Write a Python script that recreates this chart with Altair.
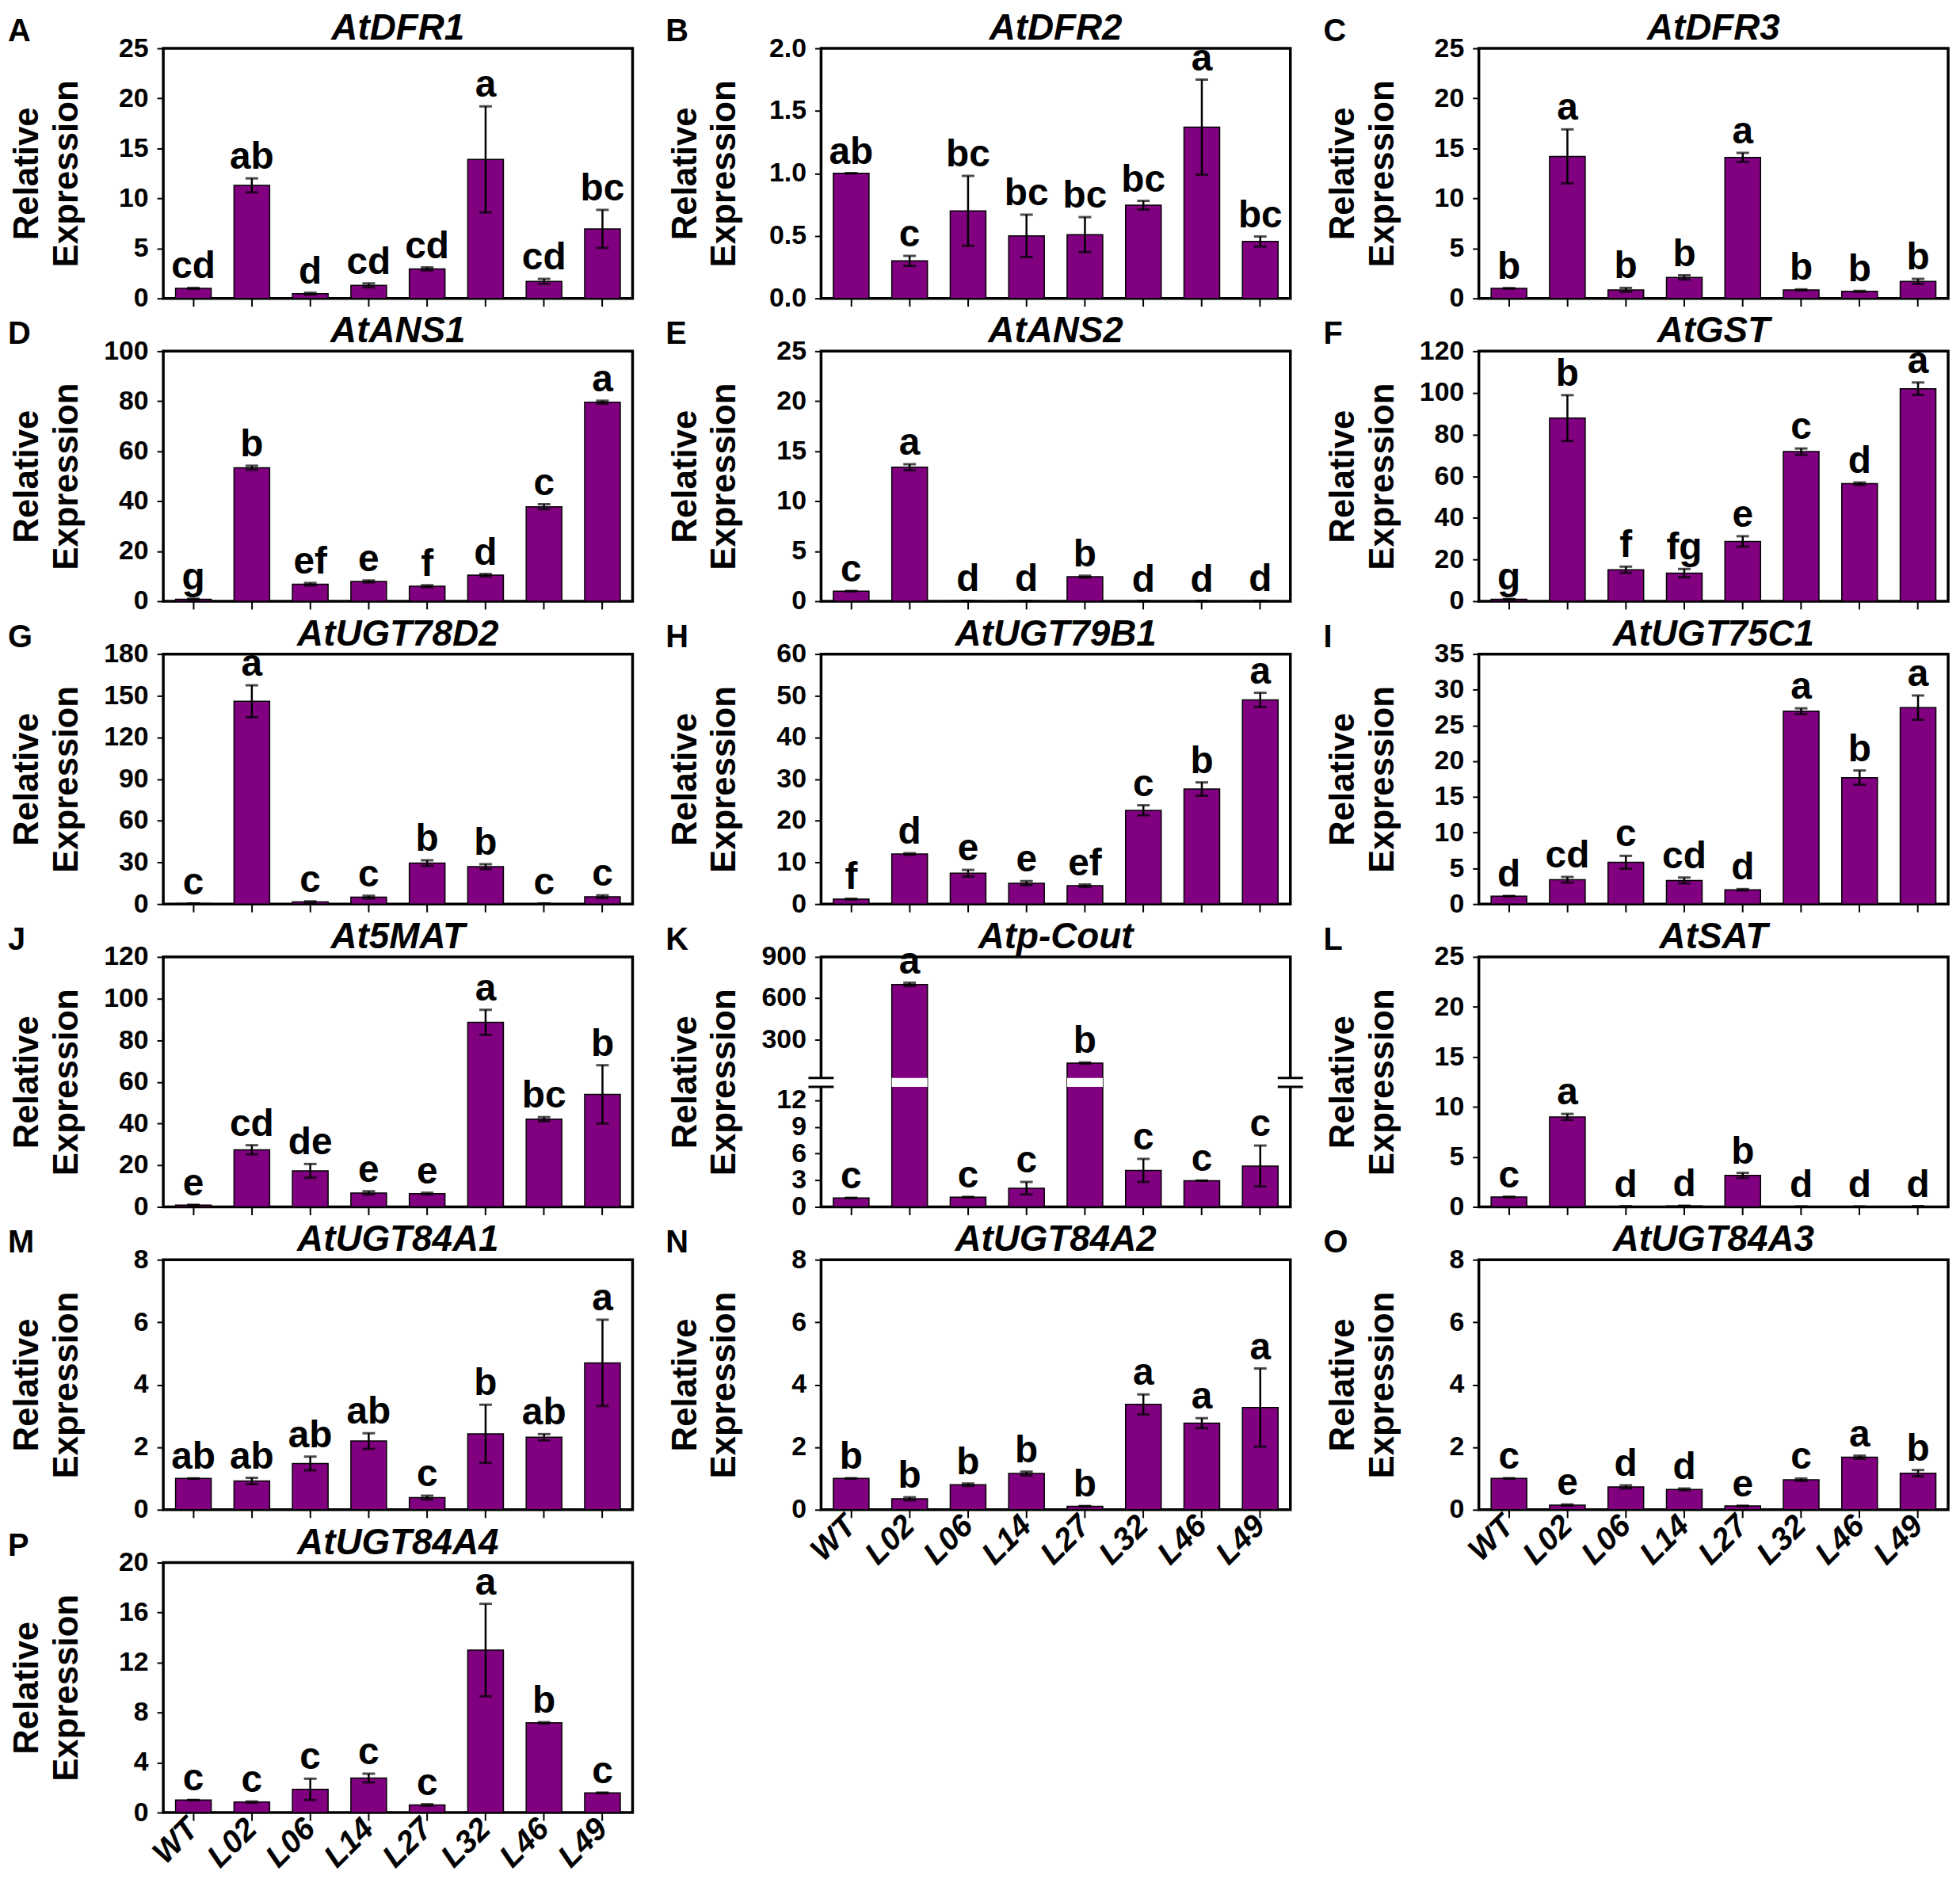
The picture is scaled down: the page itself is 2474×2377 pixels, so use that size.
import altair as alt
import pandas as pd

LINES = ["WT", "L02", "L06", "L14", "L27", "L32", "L46", "L49"]

DFR1_MEAN = [1.0, 11.3, 0.47, 1.3, 2.95, 13.9, 1.7, 6.95]
DFR1_ERR = [0.05, 0.7, 0.1, 0.2, 0.15, 5.3, 0.25, 1.9]
DFR1_SIG = ["cd", "ab", "d", "cd", "cd", "a", "cd", "bc"]

DFR2_MEAN = [1.0, 0.30, 0.70, 0.50, 0.51, 0.745, 1.37, 0.455]
DFR2_ERR = [0.0, 0.04, 0.28, 0.17, 0.14, 0.035, 0.38, 0.04]
DFR2_SIG = ["ab", "c", "bc", "bc", "bc", "bc", "a", "bc"]

DFR3_MEAN = [1.0, 14.2, 0.85, 2.1, 14.1, 0.85, 0.7, 1.7]
DFR3_ERR = [0.0, 2.7, 0.2, 0.2, 0.45, 0.05, 0.05, 0.25]
DFR3_SIG = ["b", "a", "b", "b", "a", "b", "b", "b"]

ANS1_MEAN = [0.8, 53.4, 6.8, 7.9, 6.0, 10.4, 37.8, 79.6]
ANS1_ERR = [0.2, 0.8, 0.5, 0.4, 0.4, 0.5, 1.0, 0.6]
ANS1_SIG = ["g", "b", "ef", "e", "f", "d", "c", "a"]

ANS2_MEAN = [1.0, 13.4, 0.03, 0.03, 2.45, 0.02, 0.02, 0.03]
ANS2_ERR = [0.0, 0.3, 0.01, 0.01, 0.1, 0.01, 0.01, 0.01]
ANS2_SIG = ["c", "a", "d", "d", "b", "d", "d", "d"]

GST_MEAN = [0.9, 87.9, 15.1, 13.5, 28.7, 71.8, 56.4, 102.0]
GST_ERR = [0.1, 11.0, 1.5, 2.0, 2.5, 1.5, 0.6, 3.0]
GST_SIG = ["g", "b", "f", "fg", "e", "c", "d", "a"]

U78D2_MEAN = [0.4, 146.0, 1.5, 5.0, 29.5, 26.9, 0.3, 5.3]
U78D2_ERR = [0.0, 11.5, 0.5, 1.0, 2.0, 1.8, 0.1, 1.0]
U78D2_SIG = ["c", "a", "c", "c", "b", "b", "c", "c"]

U79B1_MEAN = [1.2, 12.0, 7.4, 5.0, 4.4, 22.5, 27.6, 49.0]
U79B1_ERR = [0.1, 0.2, 0.8, 0.5, 0.3, 1.2, 1.6, 1.7]
U79B1_SIG = ["f", "d", "e", "e", "ef", "c", "b", "a"]

U75C1_MEAN = [1.1, 3.4, 5.85, 3.3, 2.0, 27.0, 17.7, 27.5]
U75C1_ERR = [0.0, 0.4, 0.9, 0.4, 0.1, 0.4, 1.0, 1.7]
U75C1_SIG = ["d", "cd", "c", "cd", "d", "a", "b", "a"]

MAT_MEAN = [0.9, 27.4, 17.3, 6.7, 6.4, 88.6, 42.1, 54.0]
MAT_ERR = [0.1, 2.2, 3.3, 0.8, 0.4, 6.0, 1.0, 14.0]
MAT_SIG = ["e", "cd", "de", "e", "e", "a", "bc", "b"]

PCOUT_MEAN = [1.0, 700.0, 1.1, 2.1, 128.0, 4.1, 2.95, 4.6]
PCOUT_ERR = [0.0, 12.0, 0.0, 0.7, 4.0, 1.3, 0.0, 2.3]
PCOUT_SIG = ["c", "a", "c", "c", "b", "c", "c", "c"]

SAT_MEAN = [1.0, 9.0, 0.05, 0.1, 3.15, 0.03, 0.03, 0.06]
SAT_ERR = [0.0, 0.3, 0.01, 0.02, 0.25, 0.01, 0.01, 0.01]
SAT_SIG = ["c", "a", "d", "d", "b", "d", "d", "d"]

U84A1_MEAN = [1.0, 0.92, 1.48, 2.2, 0.39, 2.43, 2.32, 4.7]
U84A1_ERR = [0.0, 0.1, 0.22, 0.25, 0.06, 0.93, 0.1, 1.38]
U84A1_SIG = ["ab", "ab", "ab", "ab", "c", "b", "ab", "a"]

U84A2_MEAN = [1.0, 0.35, 0.80, 1.16, 0.11, 3.37, 2.77, 3.27]
U84A2_ERR = [0.0, 0.05, 0.04, 0.06, 0.01, 0.32, 0.16, 1.25]
U84A2_SIG = ["b", "b", "b", "b", "b", "a", "a", "a"]

U84A3_MEAN = [1.0, 0.15, 0.73, 0.65, 0.12, 0.96, 1.68, 1.17]
U84A3_ERR = [0.0, 0.02, 0.05, 0.03, 0.01, 0.04, 0.05, 0.1]
U84A3_SIG = ["c", "e", "d", "d", "e", "c", "a", "b"]

U84A4_MEAN = [1.0, 0.84, 1.86, 2.76, 0.61, 13.0, 7.18, 1.57]
U84A4_ERR = [0.0, 0.05, 0.85, 0.35, 0.06, 3.7, 0.05, 0.03]
U84A4_SIG = ["c", "c", "c", "c", "c", "a", "b", "c"]

# broken axis of panel K: lower segment 0-13.5, upper segment 20-900
K_DOMAIN = [0, 13.5, 20, 900]
K_TICKS = [0, 3, 6, 9, 12, 300, 600, 900]

W, H = 595, 317
PURPLE = "#800080"
FONT = "Liberation Sans, Arial, sans-serif"


def make_panel(letter, gene, mean, err, sig, yticks, fmt, show_x, broken=False):
    df = pd.DataFrame({"line": LINES, "mean": mean, "err": err, "sig": sig})
    df["lo"] = (df["mean"] - df["err"]).clip(lower=0)
    df["hi"] = df["mean"] + df["err"]

    if broken:
        yscale = alt.Scale(domain=K_DOMAIN, range=[H, 0.52 * H, 0.484 * H, 0],
                           nice=False, zero=False)
    else:
        yscale = alt.Scale(domain=[0, yticks[-1]], nice=False)

    xaxis = alt.Axis(title=None, labels=show_x, ticks=True, tickSize=10,
                     tickWidth=2, tickColor="black", domain=False,
                     labelAngle=315, labelAlign="right", labelBaseline="middle",
                     labelFontSize=40, labelFontStyle="italic",
                     labelFontWeight="bold", labelPadding=4)
    xscale = alt.Scale(paddingInner=0.39, paddingOuter=0.21)
    yaxis = alt.Axis(values=yticks, format=fmt, title=["Relative", "Expression"],
                     titleX=-172, titleY=H / 2, titleAngle=270, titleAlign="center",
                     titleBaseline="middle", titleLineHeight=50,
                     tickSize=8, tickWidth=2, labelPadding=11, labelOverlap=False,
                     domain=False, grid=False)

    def X():
        return alt.X("line:N", sort=LINES, scale=xscale, axis=xaxis)

    def Y(field):
        return alt.Y(field, scale=yscale, axis=yaxis)

    base = alt.Chart(df)
    layers = []
    layers.append(base.mark_bar(color=PURPLE, stroke="black", strokeWidth=1.5)
                  .encode(x=X(), y=Y("mean:Q")))
    if broken:
        band = df[df["mean"] > K_DOMAIN[2]].copy()
        band["b0"] = K_DOMAIN[1]
        band["b1"] = K_DOMAIN[2]
        layers.append(alt.Chart(band).mark_bar(color="white")
                      .encode(x=X(), y=Y("b0:Q"), y2="b1:Q"))
    layers.append(base.mark_rule(color="black", strokeWidth=2.5)
                  .encode(x=X(), y=Y("lo:Q"), y2="hi:Q"))
    layers.append(base.mark_tick(color="black", thickness=3, size=16)
                  .encode(x=X(), y=Y("hi:Q")))
    layers.append(base.mark_tick(color="black", thickness=3, size=16)
                  .encode(x=X(), y=Y("lo:Q")))
    layers.append(base.mark_text(dy=-12, baseline="alphabetic", fontSize=48,
                                 fontWeight="bold", font=FONT, color="black")
                  .encode(x=X(), y=Y("hi:Q"), text="sig:N"))
    if broken:
        br = pd.DataFrame({"b": [K_DOMAIN[1], K_DOMAIN[2]]})
        gap = pd.DataFrame({"g0": [K_DOMAIN[1]], "g1": [K_DOMAIN[2]]})
        for xl in (0, W):
            layers.append(alt.Chart(gap).mark_rect(color="white")
                          .encode(x=alt.value(xl - 4), x2=alt.value(xl + 4),
                                  y=Y("g0:Q"), y2="g1:Q"))
            layers.append(alt.Chart(br).mark_rule(color="black", strokeWidth=3)
                          .encode(x=alt.value(xl - 16), x2=alt.value(xl + 16),
                                  y=Y("b:Q")))
    lab = pd.DataFrame({"t": [letter], "g": [gene]})
    layers.append(alt.Chart(lab).mark_text(align="left", baseline="alphabetic",
                                           fontSize=40, fontWeight="bold",
                                           font=FONT, color="black")
                  .encode(x=alt.value(-197), y=alt.value(-9), text="t:N"))
    layers.append(alt.Chart(lab).mark_text(align="center", baseline="alphabetic",
                                           fontSize=46, fontWeight="bold",
                                           fontStyle="italic", font=FONT,
                                           color="black")
                  .encode(x=alt.value(W / 2), y=alt.value(-11), text="g:N"))
    return alt.layer(*layers).properties(width=W, height=H)


def steps(top, step):
    vals = []
    v = 0
    while v <= top + 1e-9:
        vals.append(round(v, 3))
        v += step
    return vals


panels = [
    make_panel("A", "AtDFR1", DFR1_MEAN, DFR1_ERR, DFR1_SIG, steps(25, 5), "d", False),
    make_panel("B", "AtDFR2", DFR2_MEAN, DFR2_ERR, DFR2_SIG, steps(2.0, 0.5), ".1f", False),
    make_panel("C", "AtDFR3", DFR3_MEAN, DFR3_ERR, DFR3_SIG, steps(25, 5), "d", False),
    make_panel("D", "AtANS1", ANS1_MEAN, ANS1_ERR, ANS1_SIG, steps(100, 20), "d", False),
    make_panel("E", "AtANS2", ANS2_MEAN, ANS2_ERR, ANS2_SIG, steps(25, 5), "d", False),
    make_panel("F", "AtGST", GST_MEAN, GST_ERR, GST_SIG, steps(120, 20), "d", False),
    make_panel("G", "AtUGT78D2", U78D2_MEAN, U78D2_ERR, U78D2_SIG, steps(180, 30), "d", False),
    make_panel("H", "AtUGT79B1", U79B1_MEAN, U79B1_ERR, U79B1_SIG, steps(60, 10), "d", False),
    make_panel("I", "AtUGT75C1", U75C1_MEAN, U75C1_ERR, U75C1_SIG, steps(35, 5), "d", False),
    make_panel("J", "At5MAT", MAT_MEAN, MAT_ERR, MAT_SIG, steps(120, 20), "d", False),
    make_panel("K", "Atp-Cout", PCOUT_MEAN, PCOUT_ERR, PCOUT_SIG, K_TICKS, "d", False, broken=True),
    make_panel("L", "AtSAT", SAT_MEAN, SAT_ERR, SAT_SIG, steps(25, 5), "d", False),
    make_panel("M", "AtUGT84A1", U84A1_MEAN, U84A1_ERR, U84A1_SIG, steps(8, 2), "d", False),
    make_panel("N", "AtUGT84A2", U84A2_MEAN, U84A2_ERR, U84A2_SIG, steps(8, 2), "d", True),
    make_panel("O", "AtUGT84A3", U84A3_MEAN, U84A3_ERR, U84A3_SIG, steps(8, 2), "d", True),
    make_panel("P", "AtUGT84A4", U84A4_MEAN, U84A4_ERR, U84A4_SIG, steps(20, 4), "d", True),
]

chart = (
    alt.concat(*panels, columns=3, spacing={"row": 67, "column": 239}, bounds="flush")
    .configure_view(stroke="black", strokeWidth=3.5)
    .configure_axis(labelFont=FONT, labelFontSize=34, labelFontWeight="bold",
                    labelColor="black", titleFont=FONT, titleFontSize=44,
                    titleFontWeight="bold", titleColor="black", tickColor="black",
                    domain=False, grid=False)
    .properties(padding={"left": 0, "top": -2, "right": 5, "bottom": 5},
                background="white")
)

chart.save("out.html", embed_options={"renderer": "svg", "actions": False})
